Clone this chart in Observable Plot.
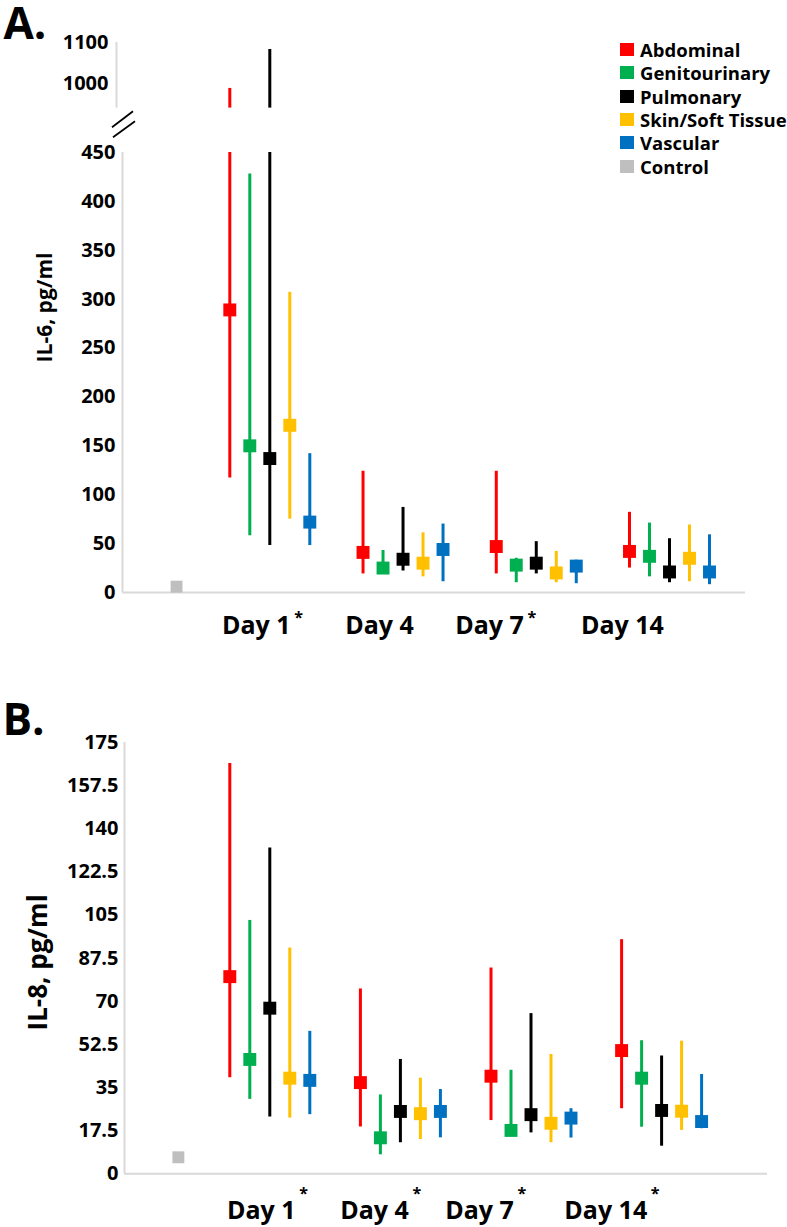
<!DOCTYPE html>
<html>
<head>
<meta charset="utf-8">
<script src="https://cdn.jsdelivr.net/npm/d3@7"></script>
<script src="https://cdn.jsdelivr.net/npm/@observablehq/plot@0.6"></script>
<style>
  body { margin: 0; background: #fff; font-family: "Open Sans", sans-serif; }
  #wrap { position: relative; width: 787px; height: 1227px; overflow: hidden; background: #fff; }
  .panel { position: absolute; left: 0; }
  #legend { position: absolute; left: 620px; top: 38px; }
  .lg-row { display: flex; align-items: center; height: 23.3px; font-weight: 700; font-size: 18.5px; color: #000; white-space: nowrap; }
  .lg-sw { width: 14px; height: 13px; margin-right: 6px; flex: none; }
</style>
</head>
<body>
<div id="wrap"></div>
<script>
// ---------- data ----------
const days = ["Day 1", "Day 4", "Day 7", "Day 14"];
const sources = ["Abdominal", "Genitourinary", "Pulmonary", "Skin/Soft Tissue", "Vascular"];
const legendLabels = ["Abdominal", "Genitourinary", "Pulmonary", "Skin/Soft Tissue", "Vascular", "Control"];
const colors = ["#ff0000", "#00b050", "#000000", "#ffc000", "#0070c0", "#bfbfbf"];

// IL-6 (pg/ml): rows = sources, columns = days
const il6Median = [
  [289, 41, 47, 42],
  [150, 25, 28, 37],
  [137, 34, 30, 21],
  [171, 30, 20, 35],
  [72, 44, 27, 21]
];
const il6Low = [
  [117, 19, 19, 25],
  [58, 20, 10, 16],
  [48, 22, 19, 10],
  [75, 16, 10, 11],
  [48, 11, 9, 8]
];
const il6High = [
  [988, 124, 124, 82],
  [428, 43, 35, 71],
  [1083, 87, 52, 55],
  [307, 61, 42, 69],
  [142, 70, 33, 59]
];
const il6Control = 6;
const il6Stars = [true, false, true, false];
const il6Ticks = [0, 50, 100, 150, 200, 250, 300, 350, 400, 450];
const il6UpperTicks = [1000, 1100];

// IL-8 (pg/ml)
const il8Median = [
  [80, 37, 39.6, 50],
  [46.4, 14.6, 17.6, 38.8],
  [67.2, 25.3, 24, 25.7],
  [38.8, 24.4, 20.5, 25.4],
  [37.9, 25.3, 22.6, 21.2]
];
const il8Low = [
  [39, 19, 21.6, 26.4],
  [30.2, 7.7, 16, 18.9],
  [23, 12.6, 16.6, 11.2],
  [22.6, 13.9, 12.6, 17.6],
  [24, 14.6, 14.5, 18.3]
];
const il8High = [
  [166.5, 75, 83.5, 95],
  [102.8, 32, 42, 54],
  [132.2, 46.4, 65, 47.8],
  [91.6, 38.8, 48.4, 53.8],
  [57.8, 34.2, 26.4, 40.3]
];
const il8Control = 6.7;
const il8Stars = [true, true, true, true];
const il8Ticks = [0, 17.5, 35, 52.5, 70, 87.5, 105, 122.5, 140, 157.5, 175];

// ---------- helpers ----------
function buildRows(med, low, high) {
  const out = [];
  sources.forEach((s, i) => days.forEach((d, j) => out.push({
    source: s, si: i, day: d, di: j + 1, median: med[i][j], low: low[i][j], high: high[i][j]
  })));
  return out;
}

const FONT = '"Open Sans", sans-serif';
const AXIS_GREY = "#d9d9d9";
const SQUARE_R = 7.3;
const CONTROL_POS = 0.3;

function xGeom(cfg) {
  const S = (cfg.groupPx[1] - cfg.groupPx[0]) / 3;   // px per day group
  const d0 = 1 + (cfg.xRange[0] - cfg.groupPx[0]) / S;
  const d1 = 1 + (cfg.xRange[1] - cfg.groupPx[0]) / S;
  const step = 20 / S;                                 // series spacing within a group
  return {S, d0, d1, step, xOf: d => d.di + (d.si - 2) * step};
}

function makeMain(cfg) {
  const {S, d0, d1, xOf} = xGeom(cfg);
  const rows = buildRows(cfg.median, cfg.low, cfg.high);
  const yMax = cfg.yDomain[1];
  const marks = [
    Plot.ruleY([0], {stroke: AXIS_GREY, strokeWidth: 2}),
    Plot.ruleX([d0], {y1: 0, y2: yMax, stroke: AXIS_GREY, strokeWidth: 2}),
    Plot.axisY({ticks: cfg.ticks, tickSize: 0, tickPadding: cfg.tickPadding, tickFormat: d => String(d),
      label: null, fontSize: 20, fontWeight: "bold", fill: "#000"}),
    Plot.ruleX(rows, {x: xOf, y1: "low", y2: d => Math.min(d.high, yMax), stroke: "source", strokeWidth: 3}),
    Plot.dot(rows, {x: xOf, y: "median", symbol: "square", r: SQUARE_R, fill: "source", stroke: null}),
    Plot.dot([cfg.control], {x: () => CONTROL_POS, y: d => d, symbol: "square", r: SQUARE_R * 0.92, fill: () => "Control", stroke: null}),
    Plot.text(days, {x: (d, i) => i + 1 + cfg.labelDx[i] / S, frameAnchor: "bottom", textAnchor: "end",
      lineAnchor: "middle", dy: cfg.labelDy, fontSize: 25, fontWeight: "bold", fill: "#000"}),
    Plot.text(days.filter((d, i) => cfg.stars[i]), {
      x: d => days.indexOf(d) + 1 + (cfg.labelDx[days.indexOf(d)] + 8) / S, text: () => "*",
      frameAnchor: "bottom", textAnchor: "middle", lineAnchor: "middle", dy: cfg.starDy,
      fontSize: 16, fontWeight: "bold", fill: "#000"}),
    Plot.text([cfg.yTitle], {frameAnchor: "left", rotate: -90, textAnchor: "middle", lineAnchor: "middle",
      dx: cfg.yTitleDx, dy: cfg.yTitleDy, fontSize: cfg.yTitleSize, fontWeight: "bold", fill: "#000"}),
    Plot.text([cfg.letter], {frameAnchor: "top-left", textAnchor: "start", lineAnchor: "top",
      dx: cfg.letterDx, dy: cfg.letterDy, fontSize: 44, fontWeight: "bold", fill: "#000"})
  ];
  if (cfg.breakMarks) {
    // "//" axis-break symbol just above the top of the lower axis
    marks.push((index, scales) => {
      const x0 = scales.x(d0);
      const ym = scales.y(yMax) - cfg.breakGap / 2;
      const g = d3.create("svg:g").attr("stroke", "#000").attr("stroke-width", 1.8);
      [[-10, -2.8, 11, -18.8], [-9, 7.2, 13, -8.8]].forEach(([a, b, c, e]) =>
        g.append("line").attr("x1", x0 + a).attr("y1", ym + b).attr("x2", x0 + c).attr("y2", ym + e));
      return g.node();
    });
  }
  return Plot.plot({
    width: 787,
    height: cfg.height,
    marginLeft: cfg.xRange[0],
    marginRight: 787 - cfg.xRange[1],
    marginTop: cfg.yRange[1],
    marginBottom: cfg.height - cfg.yRange[0],
    style: {fontFamily: FONT, color: "#000", background: "#fff", overflow: "visible"},
    x: {domain: [d0, d1], axis: null},
    y: {domain: cfg.yDomain, range: cfg.yRange, axis: null, label: null},
    color: {domain: legendLabels, range: colors},
    marks
  });
}

function makeUpper(cfg) {
  const {d0, d1, xOf} = xGeom(cfg);
  const rows = buildRows(cfg.median, cfg.low, cfg.high).filter(d => d.high > cfg.upperDomain[0]);
  return Plot.plot({
    width: 787,
    height: cfg.upperHeight,
    marginLeft: cfg.xRange[0],
    marginRight: 787 - cfg.xRange[1],
    marginTop: cfg.upperRange[1],
    marginBottom: cfg.upperHeight - cfg.upperRange[0],
    style: {fontFamily: FONT, color: "#000", background: "transparent", overflow: "visible"},
    x: {domain: [d0, d1], axis: null},
    y: {domain: cfg.upperDomain, range: cfg.upperRange, axis: null, label: null},
    color: {domain: legendLabels, range: colors},
    marks: [
      Plot.ruleX([d0], {y1: cfg.upperDomain[0], y2: cfg.upperDomain[1], dx: -6, stroke: AXIS_GREY, strokeWidth: 2}),
      Plot.axisY({ticks: cfg.upperTicks, tickSize: 0, tickPadding: cfg.tickPadding + 7, tickFormat: d => String(d),
        label: null, fontSize: 20, fontWeight: "bold", fill: "#000"}),
      Plot.ruleX(rows, {x: xOf, y1: cfg.upperDomain[0], y2: "high", stroke: "source", strokeWidth: 3})
    ]
  });
}

// ---------- panels ----------
const cfgA = {
  letter: "A.", yTitle: "IL-6, pg/ml", yTitleSize: 21,
  height: 650,
  xRange: [122, 745], groupPx: [269.3, 669],
  yDomain: [0, 450], yRange: [592, 152],
  breakMarks: true, breakGap: 44,
  upperDomain: [940, 1100], upperRange: [107.6, 42], upperHeight: 120, upperTicks: il6UpperTicks,
  ticks: il6Ticks, tickPadding: 7,
  median: il6Median, low: il6Low, high: il6High, control: il6Control,
  stars: il6Stars, labelDx: [20.7, 10.8, -12.5, -5.7], labelDy: 33.3, starDy: 25.2,
  yTitleDx: -77, yTitleDy: -65, letterDx: -119, letterDy: -145
};
const cfgB = {
  letter: "B.", yTitle: "IL-8, pg/ml", yTitleSize: 26,
  height: 577,
  xRange: [124, 767], groupPx: [269.3, 661.1],
  yDomain: [0, 175], yRange: [523.3, 92],
  breakMarks: false,
  ticks: il8Ticks, tickPadding: 6,
  median: il8Median, low: il8Low, high: il8High, control: il8Control,
  stars: il8Stars, labelDx: [25.7, 8.4, -17.2, -14.4], labelDy: 37, starDy: 20.4,
  yTitleDx: -86, yTitleDy: 4.3, letterDx: -122, letterDy: -39
};

const wrap = document.getElementById("wrap");
function place(svg, top) {
  const div = document.createElement("div");
  div.className = "panel";
  div.style.top = top + "px";
  div.appendChild(svg);
  wrap.appendChild(div);
}
place(makeMain(cfgA), 0);
place(makeUpper(cfgA), 0);
place(makeMain(cfgB), 650);

// ---------- legend ----------
const legend = d3.select(wrap).append("div").attr("id", "legend");
const rowsSel = legend.selectAll("div").data(legendLabels).join("div").attr("class", "lg-row");
rowsSel.append("div").attr("class", "lg-sw").style("background", (d, i) => colors[i]);
rowsSel.append("span").text(d => d);
</script>
</body>
</html>
